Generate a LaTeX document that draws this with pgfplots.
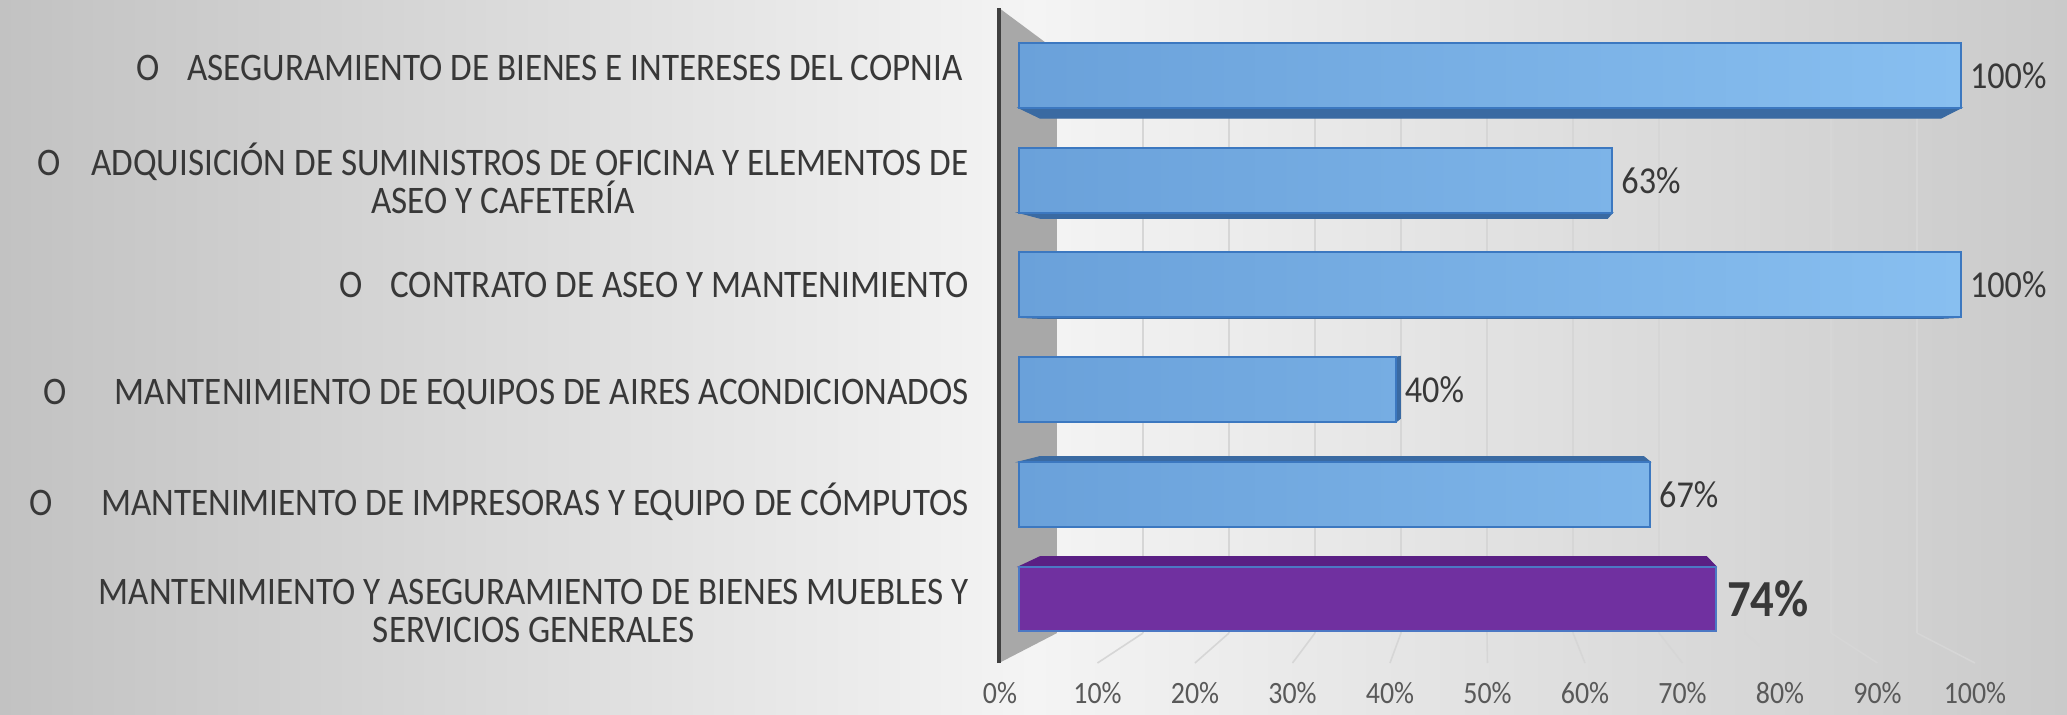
\documentclass[border=0pt]{standalone}
\usepackage{fontspec}
\setmainfont{Carlito}[FakeStretch=0.9]
\usepackage{pgfplots}
\pgfplotsset{compat=1.18}
\definecolor{bgL}{HTML}{C2C2C2}
\definecolor{bgM}{HTML}{F4F4F4}
\definecolor{bgR}{HTML}{CACACA}
\definecolor{wallc}{HTML}{A8A8A8}
\definecolor{walll}{HTML}{404040}
\definecolor{gridc}{HTML}{D6D6D6}
\definecolor{barL}{HTML}{6AA1DA}
\definecolor{barR}{HTML}{88BFF0}
\definecolor{barB}{HTML}{3C78C0}
\definecolor{barD}{HTML}{3A6AA2}
\definecolor{purp}{HTML}{7030A0}
\definecolor{purpT}{HTML}{5A1F84}
\definecolor{purpB}{HTML}{4C78C4}
\definecolor{txt}{HTML}{383838}
\definecolor{tck}{HTML}{595959}
\begin{document}
\begin{tikzpicture}
\useasboundingbox (0,0) rectangle (1033.5pt,357pt);
\shade[left color=bgL, right color=bgR, middle color=bgM] (0,0) rectangle (1033.5pt,357pt);
\begin{axis}[
  at={(499.15pt,25.5pt)}, anchor=south west,
  scale only axis, width=488.9pt, height=327.5pt,
  xmin=-2.2, xmax=101.6, ymin=-0.611, ymax=5.645,
  clip=false,
  axis line style={draw=none},
  xtick style={draw=none}, ytick style={draw=none},
  major tick length=0pt,
  bar width=0.62,
  /pgf/number format/assume math mode=true,
  xtick={-2.02,8.33,18.68,29.03,39.38,49.73,60.08,70.43,80.78,91.13,101.48},
  xticklabels={0\%,10\%,20\%,30\%,40\%,50\%,60\%,70\%,80\%,90\%,100\%},
  xticklabel style={anchor=center, yshift=-15pt, font=\fontsize{15.5}{17}\selectfont, text=tck},
  ytick={-0.11,0.93,1.95,3,4.02,5.068},
  yticklabels={
    {MANTENIMIENTO Y ASEGURAMIENTO DE BIENES MUEBLES Y\\SERVICIOS GENERALES},
    {O\hspace{24pt}MANTENIMIENTO DE IMPRESORAS Y EQUIPO DE CÓMPUTOS},
    {O\hspace{24pt}MANTENIMIENTO DE EQUIPOS DE AIRES ACONDICIONADOS},
    {O\hspace{14pt}CONTRATO DE ASEO Y MANTENIMIENTO},
    {O\hspace{15pt}ADQUISICIÓN DE SUMINISTROS DE OFICINA Y ELEMENTOS DE\\ASEO Y CAFETERÍA},
    {O\hspace{14pt}ASEGURAMIENTO DE BIENES E INTERESES DEL COPNIA\hspace{3pt}}},
  yticklabel style={align=center, anchor=east, inner sep=0pt, xshift=-14.7pt,
    font=\fontsize{19.5}{19}\selectfont, text=txt},
]
% side wall
\addplot[fill=wallc, draw=none, forget plot] coordinates {(-2.12,-0.611) (4.03,-0.325) (4.03,5.234) (-2.12,5.645)} --cycle;
\addplot[draw=walll, line width=1.6pt, forget plot] coordinates {(-2.12,-0.611) (-2.12,5.645)};
% back gridlines
\addplot[draw=gridc, line width=0.8pt, forget plot, unbounded coords=jump] coordinates {
 (13.16,-0.325) (13.16,5.234) (13.16,nan)
 (22.29,-0.325) (22.29,5.234) (22.29,nan)
 (31.42,-0.325) (31.42,5.234) (31.42,nan)
 (40.55,-0.325) (40.55,5.234) (40.55,nan)
 (49.68,-0.325) (49.68,5.234) (49.68,nan)
 (58.81,-0.325) (58.81,5.234) (58.81,nan)
 (67.94,-0.325) (67.94,5.234) (67.94,nan)
 (77.07,-0.325) (77.07,5.234) (77.07,nan)
 (86.20,-0.325) (86.20,5.234) (86.20,nan)
 (95.33,-0.325) (95.33,5.234)};
% floor lines
\addplot[draw=gridc, line width=0.8pt, forget plot, unbounded coords=jump] coordinates {
 (13.16,-0.325) (8.33,-0.611) (8.33,nan)
 (22.29,-0.325) (18.68,-0.611) (18.68,nan)
 (31.42,-0.325) (29.03,-0.611) (29.03,nan)
 (40.55,-0.325) (39.38,-0.611) (39.38,nan)
 (49.68,-0.325) (49.73,-0.611) (49.73,nan)
 (58.81,-0.325) (60.08,-0.611) (60.08,nan)
 (67.94,-0.325) (70.43,-0.611) (70.43,nan)
 (77.07,-0.325) (80.78,-0.611) (80.78,nan)
 (86.20,-0.325) (91.13,-0.611) (91.13,nan)
 (95.33,-0.325) (101.48,-0.611)};
% 3D side faces of the bars
\addplot[fill=barD, draw=barD, line width=0.5pt, forget plot] coordinates {(0,4.69) (100,4.69) (97.85,4.5925) (2.25,4.5925)} --cycle;
\addplot[fill=barD, draw=barD, line width=0.5pt, forget plot] coordinates {(0,3.69) (63,3.69) (62.475,3.6365) (2.25,3.6365)} --cycle;
\addplot[fill=barD, draw=barD, line width=0.5pt, forget plot] coordinates {(0,2.69) (100,2.69) (97.85,2.6805) (2.25,2.6805)} --cycle;
\addplot[fill=barD, draw=barD, line width=0.5pt, forget plot] coordinates {(40,1.69) (40,2.31) (40.487,2.3172) (40.487,1.7245)} --cycle;
\addplot[fill=barD, draw=barD, line width=0.5pt, forget plot] coordinates {(0,1.31) (67,1.31) (66.30,1.3612) (2.25,1.3612)} --cycle;
\addplot[fill=purpT, draw=purpT, line width=0.5pt, forget plot] coordinates {(0,0.31) (74,0.31) (72.99,0.4052) (2.25,0.4052)} --cycle;
% front faces
\addplot[xbar, bar shift=0pt, draw=barB, line width=1pt, left color=barL, right color=barR,
  point meta=x, nodes near coords={\pgfmathprintnumber{\pgfplotspointmeta}\%},
  every node near coord/.append style={anchor=west, inner sep=0pt, xshift=4pt,
    font=\fontsize{19}{21}\selectfont, text=txt}]
  coordinates {(67,1) (40,2) (100,3) (63,4) (100,5)};
\addplot[xbar, bar shift=0pt, draw=purpB, line width=1pt, fill=purp,
  point meta=x, nodes near coords={\textbf{\pgfmathprintnumber{\pgfplotspointmeta}\%}},
  every node near coord/.append style={anchor=west, inner sep=0pt, xshift=5pt,
    font=\fontsize{26}{28}\selectfont, text=txt}]
  coordinates {(74,0)};
\end{axis}
\end{tikzpicture}
\end{document}
